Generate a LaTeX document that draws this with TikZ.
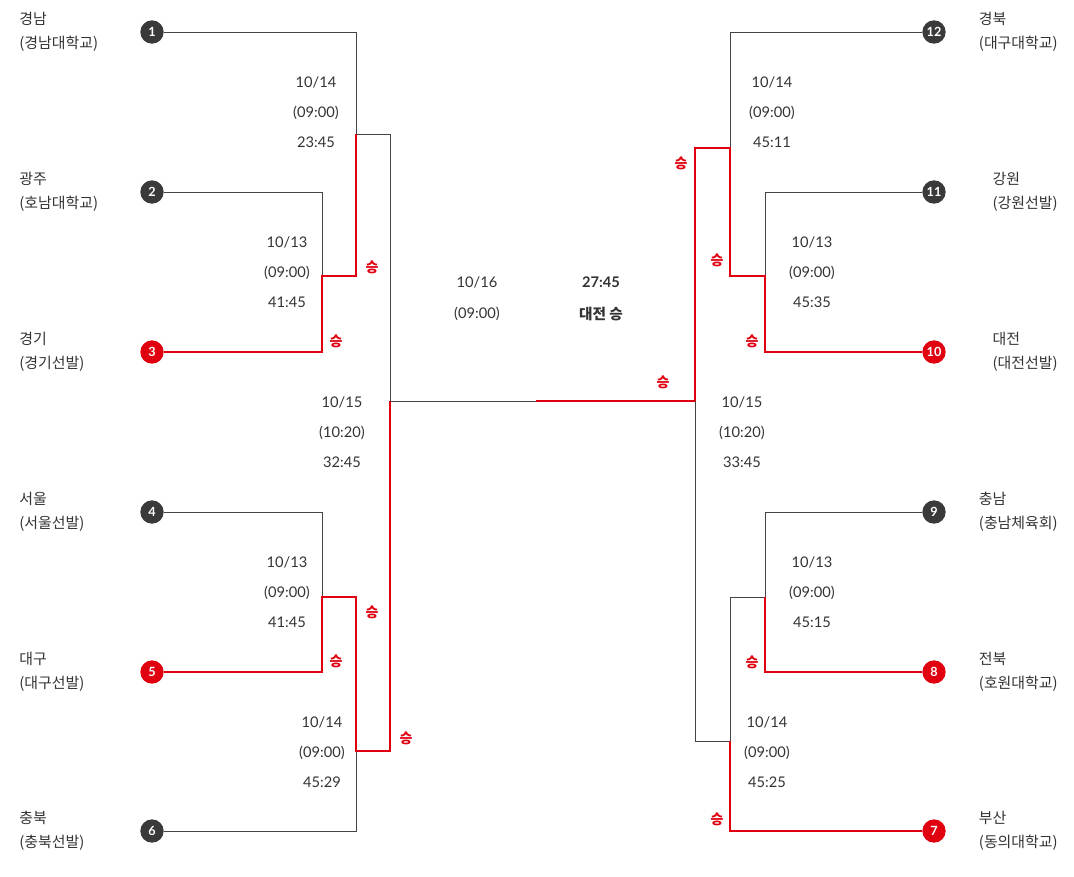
\documentclass[tikz,border=0pt]{standalone}
\usepackage{fontspec}
\setmainfont{Lato}
\newfontfamily\kr{Noto Sans CJK KR}
\usetikzlibrary{positioning}
\definecolor{winred}{HTML}{E00010}
\definecolor{ink}{HTML}{333333}
\definecolor{dotgray}{HTML}{3A3A3A}
\definecolor{wire}{HTML}{444444}

\begin{document}
\begin{tikzpicture}[x=0.75pt,y=-0.75pt,every node/.style={text=ink},
			dot/.style={circle, fill=dotgray, text=white, minimum size=17.5pt, inner sep=0pt, font=\fontsize{9.5}{10}\selectfont\bfseries},
			windot/.style={dot, fill=winred},
			team/.style={inner sep=0pt, align=left, font=\kr\fontsize{11.2}{18}\selectfont},
			game/.style={inner sep=0pt, align=center, font=\fontsize{11}{22.5}\selectfont},
			wonlbl/.style={text=winred, inner sep=0pt, font=\kr\bfseries\fontsize{10.5}{10}\selectfont},
			lose/.style={draw=wire, line width=0.75pt},
			beat/.style={draw=winred, line width=1.6pt}]
			\useasboundingbox (0,0) rectangle (1074,876);
			\node[dot] (t1) at (152,32) {1};
			\node[dot] (t2) at (152,192) {2};
			\node[windot] (t3) at (152,352) {3};
			\node[dot] (t4) at (152,512) {4};
			\node[windot] (t5) at (152,672) {5};
			\node[dot] (t6) at (152,831) {6};
			\node[dot] (t12) at (934,32) {12};
			\node[dot] (t11) at (934,192) {11};
			\node[windot] (t10) at (934,352) {10};
			\node[dot] (t9) at (934,512) {9};
			\node[windot] (t8) at (934,672) {8};
			\node[windot] (t7) at (934,831) {7};
			\node[team, anchor=west] (n1) at (19,32) {경남\\(경남대학교)};
			\node[team, anchor=west] (n2) at (19,192) {광주\\(호남대학교)};
			\node[team, anchor=west] (n3) at (19,352) {경기\\(경기선발)};
			\node[team, anchor=west] (n4) at (19,512) {서울\\(서울선발)};
			\node[team, anchor=west] (n5) at (19,672) {대구\\(대구선발)};
			\node[team, anchor=west] (n6) at (19,831) {충북\\(충북선발)};
			\node[team, anchor=east] (n12) at (1058,32) {경북\\(대구대학교)};
			\node[team, anchor=east] (n11) at (1058,192) {강원\\(강원선발)};
			\node[team, anchor=east] (n10) at (1058,352) {대전\\(대전선발)};
			\node[team, anchor=east] (n9) at (1058,512) {충남\\(충남체육회)};
			\node[team, anchor=east] (n8) at (1058,672) {전북\\(호원대학교)};
			\node[team, anchor=east] (n7) at (1058,831) {부산\\(동의대학교)};
			\node[game] (g1) at (316,112) {10/14\\(09:00)\\23:45};
			\node[game] (g2) at (287,272) {10/13\\(09:00)\\41:45};
			\node[game] (g3) at (342,432) {10/15\\(10:20)\\32:45};
			\node[game] (g4) at (287,592) {10/13\\(09:00)\\41:45};
			\node[game] (g5) at (322,752) {10/14\\(09:00)\\45:29};
			\node[game] (g6) at (772,112) {10/14\\(09:00)\\45:11};
			\node[game] (g7) at (812,272) {10/13\\(09:00)\\45:35};
			\node[game] (g8) at (742,432) {10/15\\(10:20)\\33:45};
			\node[game] (g9) at (812,592) {10/13\\(09:00)\\45:15};
			\node[game] (g10) at (767,752) {10/14\\(09:00)\\45:25};
			\node[inner sep=0pt, font=\fontsize{11}{11}\selectfont] (fday) at (477,282) {10/16};
			\node[inner sep=0pt, font=\fontsize{11}{11}\selectfont, below=24pt of fday.center, anchor=center] (ftime) {(09:00)};
			\node[inner sep=0pt, font=\fontsize{11}{11}\selectfont\bfseries] (fscore) at (601,282) {27:45};
			\node[inner sep=0pt, font=\kr\bfseries\fontsize{11}{11}\selectfont, below=24pt of fscore.center, anchor=center] (fwin) {대전 승};
			\coordinate (a1) at (356,134);
			\coordinate (m1) at (322,276);
			\coordinate (m2) at (356,276);
			\coordinate (c1) at (390,134);
			\coordinate (f1) at (390,401);
			\coordinate (fc) at (536,401);
			\coordinate (m3) at (322,597);
			\coordinate (m4) at (356,597);
			\coordinate (m5) at (356,751);
			\coordinate (m6) at (390,751);
			\coordinate (f2) at (695,401);
			\coordinate (r1) at (730,148);
			\coordinate (r2) at (695,148);
			\coordinate (r3) at (765,276);
			\coordinate (r4) at (730,276);
			\coordinate (r5) at (695,741);
			\coordinate (r6) at (730,741);
			\coordinate (r7) at (730,597);
			\coordinate (r8) at (765,597);
			\draw[lose] (t1.east) -| (a1) -- (c1) -- (f1) -- (fc);
			\draw[lose] (t2.east) -| (m1);
			\draw[lose] (t4.east) -| (m3);
			\draw[lose] (t6.east) -| (m5);
			\draw[lose] (t12.west) -| (r1);
			\draw[lose] (t11.west) -| (r3);
			\draw[lose] (f2) -- (r5) -- (r6) -- (r7) -- (r8);
			\draw[lose] (t9.west) -| (r8);
			\draw[beat] (t3.east) -| (m1) -- (m2) -- (a1);
			\draw[beat] (t5.east) -| (m3) -- (m4) -- (m5) -- (m6) -- (f1);
			\draw[beat] (fc) -- (f2);
			\draw[beat] (t10.west) -| (r3) -- (r4) -- (r1) -- (r2) -- (f2);
			\draw[beat] (t8.west) -| (r8);
			\draw[beat] (t7.west) -| (r6);
			\node[wonlbl] at (372,267) {승};
			\node[wonlbl] at (336,341) {승};
			\node[wonlbl] at (372,612) {승};
			\node[wonlbl] at (336,661) {승};
			\node[wonlbl] at (406,738) {승};
			\node[wonlbl] at (663,382) {승};
			\node[wonlbl] at (681,163) {승};
			\node[wonlbl] at (717,260) {승};
			\node[wonlbl] at (752,341) {승};
			\node[wonlbl] at (752,662) {승};
			\node[wonlbl] at (717,819) {승};
		\end{tikzpicture}
\end{document}
